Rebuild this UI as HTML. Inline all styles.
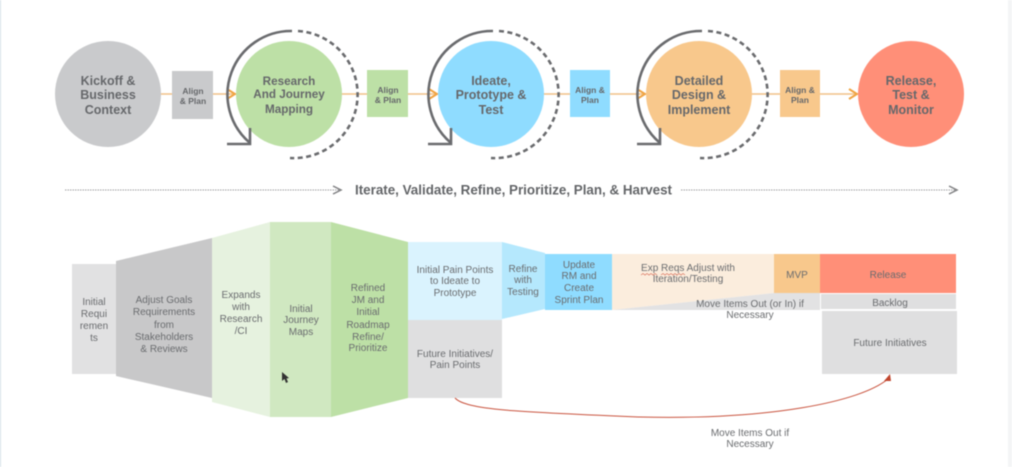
<!DOCTYPE html>
<html><head><meta charset="utf-8"><style>
html,body{margin:0;padding:0;background:#fff;width:1012px;height:467px;overflow:hidden}
svg{display:block;filter:blur(.6px)}
text{font-family:"Liberation Sans",sans-serif;text-anchor:middle}
.b{font-weight:bold;font-size:12.5px;fill:#66686b}
.s{font-weight:bold;font-size:8.5px;fill:#66686b}
.t{font-size:10px;fill:#6a6c6f}
</style></head><body>
<svg width="1012" height="467" viewBox="0 0 1012 467" xmlns="http://www.w3.org/2000/svg">
<rect x="0" y="0" width="1" height="467" fill="#d5e0e8"/>
<rect x="1008" y="0" width="4" height="467" fill="#f4f5f6"/>

<!-- orange connectors -->
<g stroke="#f2c187" stroke-width="1.5" fill="none">
<line x1="161" y1="94" x2="234" y2="94"/><line x1="342" y1="94" x2="436" y2="94"/>
<line x1="544" y1="94" x2="644" y2="94"/><line x1="752" y1="94" x2="856" y2="94"/>
</g>
<g stroke="#f0a443" stroke-width="2" fill="none">
<polyline points="227,89 235,94 227,99"/><polyline points="429,89 437,94 429,99"/>
<polyline points="637,89 645,94 637,99"/><polyline points="849,89 857,94 849,99"/>
</g>

<!-- squares -->
<rect x="172" y="71" width="41" height="48" fill="#c9cacc"/>
<rect x="367" y="70" width="41" height="47" fill="#bde0a6"/>
<rect x="570" y="70" width="40" height="47" fill="#8fdcff"/>
<rect x="780" y="70" width="40" height="47" fill="#f8c88c"/>

<!-- circles -->
<circle cx="108" cy="94" r="53" fill="#c9cacc"/>
<circle cx="289" cy="94" r="53" fill="#bde0a6"/>
<circle cx="491" cy="94" r="53" fill="#8fdcff"/>
<circle cx="699" cy="94" r="53" fill="#f8c88c"/>
<circle cx="911" cy="94" r="53" fill="#ff8f78"/>

<!-- cycle rings -->
<g fill="none" stroke="#6a6b6e" stroke-width="2.6">
<g>
<path d="M292 31 A63.500 63.500 0 0 0 250 143"/>
<polyline points="227,144 250,144 250,128"/>
<path d="M298 31 A63.500 63.500 0 0 1 290 158" stroke-dasharray="5 3.500"/>
</g>
<g transform="translate(201,0)">
<path d="M292 31 A63.500 63.500 0 0 0 250 143"/>
<polyline points="227,144 250,144 250,128"/>
<path d="M298 31 A63.500 63.500 0 0 1 290 158" stroke-dasharray="5 3.500"/>
</g>
<g transform="translate(410,0)">
<path d="M292 31 A63.500 63.500 0 0 0 250 143"/>
<polyline points="227,144 250,144 250,128"/>
<path d="M298 31 A63.500 63.500 0 0 1 290 158" stroke-dasharray="5 3.500"/>
</g>
</g>

<!-- circle text -->
<g class="b">
<text x="108" y="85">Kickoff &amp;</text><text x="108" y="99">Business</text><text x="108" y="114">Context</text>
<g style="font-size:11.700px"><text x="289" y="85">Research</text><text x="289" y="98">And Journey</text><text x="289" y="113">Mapping</text></g>
<text x="491" y="85">Ideate,</text><text x="491" y="99">Prototype &amp;</text><text x="491" y="114">Test</text>
<text x="699" y="85">Detailed</text><text x="699" y="99">Design &amp;</text><text x="699" y="114">Implement</text>
<text x="911" y="85">Release,</text><text x="911" y="99">Test &amp;</text><text x="911" y="114">Monitor</text>
</g>
<g class="s">
<text x="193" y="94">Align</text><text x="193" y="104">&amp; Plan</text>
<text x="388" y="93">Align</text><text x="388" y="103">&amp; Plan</text>
<text x="590" y="93">Align &amp;</text><text x="590" y="103">Plan</text>
<text x="800" y="93">Align &amp;</text><text x="800" y="103">Plan</text>
</g>

<!-- iterate line -->
<g stroke="#a0a1a3" fill="none">
<line x1="65" y1="190" x2="341" y2="190" stroke-width="1" stroke-dasharray="1.500 1"/>
<line x1="681" y1="190" x2="955" y2="190" stroke-width="1" stroke-dasharray="1.500 1"/>
<polyline points="333,186 341,190 333,194" stroke-width="1.500" stroke="#808183"/>
<polyline points="949,186 957,190 949,194" stroke-width="1.500" stroke="#808183"/>
</g>
<text x="513.500" y="194.500" style="font-weight:bold;font-size:13.400px;fill:#636568">Iterate, Validate, Refine, Prioritize, Plan, &amp; Harvest</text>

<!-- funnel -->
<rect x="72" y="264" width="44" height="110" fill="#e1e1e2"/>
<polygon points="116,261 212,238 212,398 116,376" fill="#c8c8c9"/>
<polygon points="212,238 270,222 270,417 212,402" fill="#e6f2df"/>
<polygon points="270,222 331,222 331,417 270,417" fill="#d0e8c1"/>
<polygon points="331,222 408,242 408,398 331,417" fill="#bde0a6"/>
<rect x="408" y="242" width="94" height="78" fill="#daf3fe"/>
<rect x="408" y="320" width="94" height="78" fill="#dfdfe0"/>
<polygon points="502,242 545,253 545,309 502,319" fill="#b5e8fd"/>
<rect x="545" y="254" width="67" height="56" fill="#8fdcff"/>
<polygon points="612,254 774,254 774,293 612,310" fill="#fbeddd"/>
<polygon points="612,310 774,293 820,293 820,310" fill="#e2e2e3"/>
<rect x="774" y="254" width="46" height="39" fill="#f8c88c"/>
<rect x="820" y="254" width="136" height="39" fill="#ff8f78"/>
<rect x="821" y="294" width="135" height="15" fill="#dfdfe0"/>
<rect x="822" y="311" width="135" height="63" fill="#dfdfe0"/>

<!-- curved arrow -->
<path d="M455 398 C466 410 520 412 640 417 C770 420 860 402 888 379" fill="none" stroke="#c9543f" stroke-width="1"/>
<polygon points="890,374 884,381 891,381" fill="#c0442c"/>

<!-- cursor -->
<polygon points="282,372 282,381 284.500,379 286,383 288,382 286.500,378.500 289,378" fill="#333"/>

<!-- funnel text -->
<g class="t">
<text x="94" y="305">Initial</text><text x="94" y="317">Requi</text><text x="94" y="329">remen</text><text x="94" y="341">ts</text>
<text x="164" y="303">Adjust Goals</text><text x="164" y="315">Requirements</text><text x="164" y="328">from</text><text x="164" y="340">Stakeholders</text><text x="164" y="352">&amp; Reviews</text>
<text x="241" y="298">Expands</text><text x="241" y="310">with</text><text x="241" y="322">Research</text><text x="241" y="334">/CI</text>
<text x="301" y="312">Initial</text><text x="301" y="323">Journey</text><text x="301" y="335">Maps</text>
<text x="368" y="291">Refined</text><text x="368" y="303">JM and</text><text x="368" y="315">Initial</text><text x="368" y="328">Roadmap</text><text x="368" y="340">Refine/</text><text x="368" y="351">Prioritize</text>
<text x="455" y="273">Initial Pain Points</text><text x="455" y="284">to Ideate to</text><text x="455" y="296">Prototype</text>
<text x="455" y="357">Future Initiatives/</text><text x="455" y="368">Pain Points</text>
<text x="523" y="272">Refine</text><text x="523" y="283">with</text><text x="523" y="295">Testing</text>
<text x="579" y="268">Update</text><text x="579" y="279">RM and</text><text x="579" y="291">Create</text><text x="579" y="303">Sprint Plan</text>
<text x="688" y="271">Exp Reqs Adjust with</text><text x="688" y="282">Iteration/Testing</text>
<text x="797" y="278">MVP</text>
<text x="888" y="278">Release</text>
<text x="890" y="306">Backlog</text>
<text x="890" y="346">Future Initiatives</text>
<text x="750" y="307">Move Items Out (or In) if</text><text x="750" y="318">Necessary</text>
<text x="750" y="436">Move Items Out if</text><text x="750" y="447">Necessary</text>
</g>
<path d="M641 275 l2 -1.500 2 1.500 2 -1.500 2 1.500 2 -1.500 2 1.500 2 -1.500 2 1.500 M661 275 l2 -1.500 2 1.500 2 -1.500 2 1.500 2 -1.500 2 1.500 2 -1.500 2 1.500 2 -1.500 2 1.500 2 -1.500 2 1.500" fill="none" stroke="#d9705a" stroke-width=".7"/>
</svg>
</body></html>
